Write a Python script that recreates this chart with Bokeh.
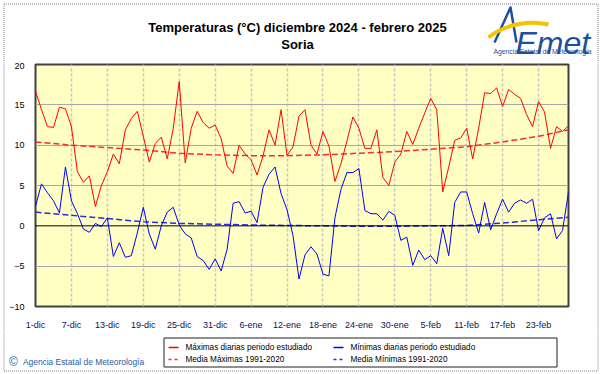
from bokeh.plotting import figure
from bokeh.layouts import column, row
from bokeh.models import Range1d, FixedTicker, Span
from bokeh.core.properties import value
from bokeh.embed import file_html
from bokeh.resources import INLINE

# ---- data -------------------------------------------------------------
tick_labels = ["1-dic", "7-dic", "13-dic", "19-dic", "25-dic", "31-dic", "6-ene",
               "12-ene", "18-ene", "24-ene", "30-ene", "5-feb", "11-feb", "17-feb",
               "23-feb"]

# daily maxima, 1-dic-2024 .. 28-feb-2025 (90 days)
tmax = [16.7, 14.4, 12.3, 12.2, 14.7, 14.5, 12.3, 6.7, 5.4, 6.2,
        2.4, 5.0, 6.7, 8.9, 7.7, 11.9, 13.3, 14.2, 11.1, 7.9,
        10.2, 11.0, 8.3, 12.1, 17.9, 7.8, 12.1, 14.2, 12.8, 12.1,
        12.5, 10.8, 7.4, 6.5, 10.0, 8.9, 8.2, 6.3, 8.7, 11.9,
        10.0, 14.4, 8.7, 9.8, 13.6, 14.4, 10.0, 8.9, 11.7, 9.9,
        5.5, 7.7, 10.5, 13.5, 12.1, 9.6, 9.6, 11.9, 6.0, 5.0,
        7.9, 8.9, 11.7, 10.1, 12.1, 14.0, 15.8, 14.4, 4.2, 7.3,
        10.6, 10.9, 12.1, 8.3, 12.1, 16.5, 16.4, 17.1, 14.8, 16.9,
        16.3, 15.8, 13.8, 12.3, 15.4, 14.1, 9.6, 12.3, 11.7, 12.4]

# daily minima
tmin = [2.4, 5.2, 4.1, 3.1, 1.6, 7.3, 3.1, 1.5, -0.4, -0.8,
        0.3, -0.1, 1.0, -3.8, -2.1, -3.9, -3.7, -0.9, 2.3, -1.0,
        -2.9, 0.0, 1.7, 2.3, 0.1, -1.0, -1.5, -3.8, -4.3, -5.4,
        -4.1, -5.6, -2.9, 2.8, 3.0, 1.6, 1.8, 0.4, 4.8, 6.4,
        7.3, 4.0, 2.0, -1.2, -6.6, -3.6, -2.6, -3.5, -6.0, -6.2,
        1.0, 4.5, 6.6, 6.6, 7.1, 1.9, 1.5, 1.5, 0.7, 1.8,
        1.3, -1.8, -1.4, -4.9, -3.0, -4.2, -3.7, -4.7, -0.3, -3.7,
        2.9, 4.2, 4.2, 1.5, -0.9, 2.9, -0.5, 1.5, 3.3, 1.7,
        2.8, 3.2, 2.8, 3.3, -0.6, 1.0, 1.5, -1.6, -0.6, 4.2]

# climatological means 1991-2020 (read at selected days)
mean_days = [0, 6, 12, 18, 24, 30, 36, 42, 48, 54, 60, 66, 72, 78, 84, 89]
mean_max = [10.4, 10.0, 9.7, 9.4, 9.0, 8.8, 8.7, 8.7, 8.8, 9.0, 9.2, 9.5, 9.8, 10.4, 11.1, 11.9]
mean_min = [1.7, 1.3, 0.9, 0.5, 0.3, 0.2, 0.1, 0.05, 0.0, -0.05, -0.05, 0.0, 0.05, 0.35, 0.75, 1.05]

title_1 = "Temperaturas (°C) diciembre 2024 - febrero 2025"
title_2 = "Soria"
legend_labels = ["Máximas diarias periodo estudiado", "Media Máximas 1991-2020",
                 "Mínimas diarias periodo estudiado", "Media Mínimas 1991-2020"]
credit = "Agencia Estatal de Meteorología"

days = list(range(len(tmax)))

FONT = "Liberation Sans"
W, H = 601, 374
C_MAX, C_MIN = "#ff0000", "#0000ff"
C_MMAX, C_MMIN = "#ff2a2a", "#2a2ae0"
C_AEMET = "#1f4f9f"
C_FRAME = "#808080"


def blank(width, height, x0, x1, y_top, y_bot):
    """Figure whose frame fills the canvas; data coords equal page pixels."""
    f = figure(width=width, height=height, output_backend="svg", toolbar_location=None,
               x_range=Range1d(x0, x1), y_range=Range1d(y_bot, y_top),
               min_border=0, background_fill_color="white", border_fill_color="white",
               frame_align=False)
    f.axis.visible = False
    f.grid.visible = False
    f.outline_line_color = None
    return f


# ---- header -----------------------------------------------------------
p_top = blank(W, 62, 0, W, 0, 62)
p_top.segment(x0=[3.5, 3.5, 597.5], y0=[3.5, 3.5, 3.5], x1=[597.5, 3.5, 597.5],
              y1=[3.5, 62, 62], line_color=C_FRAME, line_width=1, line_dash="1 1")
p_top.text(x=[297, 297], y=[27, 44], text=[title_1, title_2],
           text_font=value(FONT), text_font_size="13px", text_font_style="bold",
           text_align="center", text_baseline="middle", text_color="black")
# logo
p_top.line(x=[494, 510, 516], y=[42, 7, 42], line_color=C_AEMET, line_width=2.5,
           line_join="round")
p_top.bezier(x0=[488], y0=[37], x1=[548], y1=[24], cx0=[505], cy0=[23],
             cx1=[530], cy1=[20], line_color="#f5c400", line_width=4)
p_top.text(x=[515], y=[42], text=["Emet"], text_font=value(FONT), text_font_size="32px",
           text_font_style="italic", text_color=C_AEMET, text_baseline="alphabetic")
p_top.text(x=[542], y=[50.5], text=[credit], text_font=value(FONT), text_font_size="6.8px",
           text_color=C_AEMET, text_align="center", text_baseline="middle")

# ---- main chart -------------------------------------------------------
MID_TOP, MID_BOT = 62, 332
p = figure(width=589, height=MID_BOT - MID_TOP, output_backend="svg", toolbar_location=None,
           x_range=Range1d(0, len(days) - 1), y_range=Range1d(-10, 20),
           min_border_left=28, min_border_right=27, min_border_top=2,
           min_border_bottom=22, background_fill_color="#ffffc4",
           border_fill_color="white", frame_align=False)
p.outline_line_color = "#404040"
p.outline_line_width = 2

p.xaxis.ticker = FixedTicker(ticks=[6 * k for k in range(len(tick_labels))])
p.xaxis.major_label_overrides = {6 * k: lab for k, lab in enumerate(tick_labels)}
p.yaxis.ticker = FixedTicker(ticks=[-10, -5, 0, 5, 10, 15, 20])
for ax in (p.xaxis, p.yaxis):
    ax.axis_line_color = None
    ax.major_tick_line_color = None
    ax.minor_tick_line_color = None
    ax.major_label_text_font = FONT
    ax.major_label_text_font_size = "9px"
    ax.major_label_text_color = "#000000"
p.xaxis.major_label_standoff = 7
p.xaxis.major_label_text_color = "#101050"
p.yaxis.major_label_standoff = 5

p.xgrid.ticker = FixedTicker(ticks=[6 * k for k in range(1, len(tick_labels))])
p.xgrid.grid_line_color = "#c4c4c4"
p.xgrid.grid_line_dash = "3 2"
p.xgrid.grid_line_width = 1.5
p.ygrid.ticker = FixedTicker(ticks=[-5, 5, 10, 15])
p.ygrid.grid_line_color = "#a8a8a8"
p.ygrid.grid_line_width = 1

p.add_layout(Span(location=0, dimension="width", line_color="black", line_width=1))

p.line(mean_days, mean_max, line_color=C_MMAX, line_width=1.5, line_dash="6 3")
p.line(mean_days, mean_min, line_color=C_MMIN, line_width=1.5, line_dash="6 3")
p.line(days, tmax, line_color=C_MAX, line_width=1)
p.line(days, tmin, line_color=C_MIN, line_width=1)

# side strips carrying the outer frame next to the chart
s_left = blank(6, MID_BOT - MID_TOP, 0, 6, MID_TOP, MID_BOT)
s_left.segment(x0=[3.5], y0=[MID_TOP], x1=[3.5], y1=[MID_BOT], line_color=C_FRAME,
               line_width=1, line_dash="1 1")
s_right = blank(6, MID_BOT - MID_TOP, 595, 601, MID_TOP, MID_BOT)
s_right.segment(x0=[597.5], y0=[MID_TOP], x1=[597.5], y1=[MID_BOT], line_color=C_FRAME,
                line_width=1, line_dash="1 1")

# ---- footer (legend + credit) -----------------------------------------
p_bot = blank(W, H - MID_BOT, 0, W, MID_BOT, H)
p_bot.segment(x0=[3.5, 3.5, 597.5], y0=[370.5, MID_BOT, MID_BOT], x1=[597.5, 3.5, 597.5],
              y1=[370.5, 370.5, 370.5], line_color=C_FRAME, line_width=1, line_dash="1 1")
p_bot.quad(left=[163.5], right=[556.5], top=[337.5], bottom=[366.5],
           fill_color="white", line_color="#202020", line_width=1)
p_bot.text(x=[8.5], y=[361], text=["©"], text_font=value(FONT), text_font_size="12px",
           text_color="#2a5aa8", text_baseline="middle")
p_bot.text(x=[22.5], y=[361], text=[credit], text_font=value(FONT), text_font_size="8.4px",
           text_color="#2a5aa8", text_baseline="middle")

# legend samples and labels
leg_x = [168, 168, 333, 333]
leg_y = [347, 359, 347, 359]
leg_col = [C_MAX, C_MMAX, C_MIN, C_MMIN]
leg_dash = ["solid", "3 3", "solid", "3 3"]
for lx, ly, lc, ld, lab in zip(leg_x, leg_y, leg_col, leg_dash, legend_labels):
    p_bot.line(x=[lx, lx + 10], y=[ly, ly], line_color=lc, line_width=1.5, line_dash=ld)
    p_bot.text(x=[lx + 17], y=[ly], text=[lab], text_font=value(FONT),
               text_font_size="8.2px", text_color="black", text_baseline="middle")

layout = column(p_top, row(s_left, p, s_right, spacing=0), p_bot, spacing=0)

open("out.html", "w").write(file_html(layout, INLINE))
